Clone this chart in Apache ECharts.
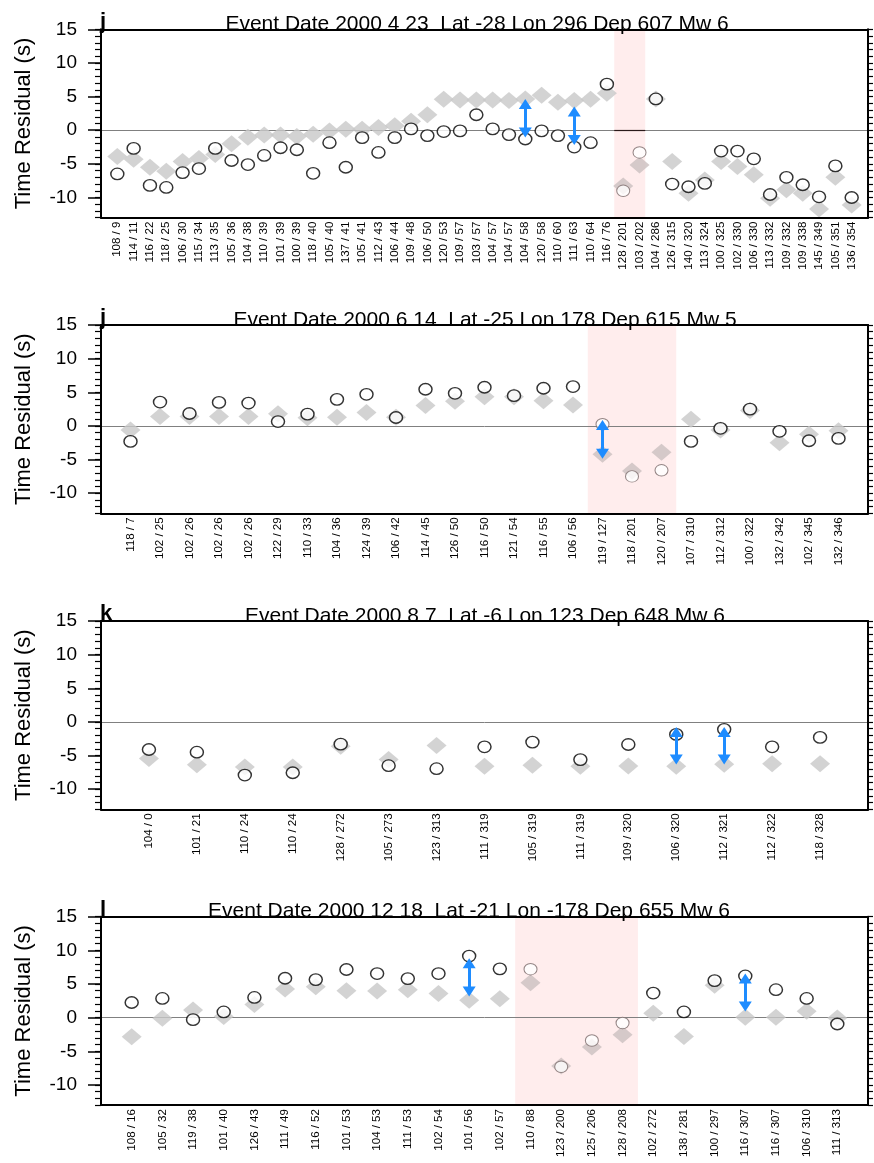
<!DOCTYPE html>
<html><head><meta charset="utf-8">
<script src="https://cdn.jsdelivr.net/npm/echarts@6/dist/echarts.min.js"></script>
<style>html,body{margin:0;padding:0;background:#fff}#c{width:874px;height:1163px}</style>
</head><body><div id="c"></div>
<script>
// ---------- DATA ----------
const labels1 = ['108 / 9','114 / 11','116 / 22','118 / 25','106 / 30','115 / 34','113 / 35','105 / 36','104 / 38','110 / 39','101 / 39','100 / 39','118 / 40','105 / 40','137 / 41','105 / 41','112 / 43','106 / 44','109 / 48','106 / 50','120 / 53','109 / 57','103 / 57','104 / 57','104 / 57','104 / 58','120 / 58','110 / 60','111 / 63','110 / 64','116 / 76','128 / 201','103 / 202','104 / 286','126 / 315','140 / 320','113 / 324','100 / 325','102 / 330','106 / 330','113 / 332','109 / 332','109 / 338','145 / 349','105 / 351','136 / 354'];
const pred1 = [-3.9,-4.3,-5.5,-6.1,-4.65,-4.2,-3.6,-2.0,-1.05,-0.7,-0.7,-0.95,-0.6,-0.1,0.15,0.15,0.4,0.65,1.35,2.3,4.6,4.5,4.5,4.5,4.4,4.65,5.2,4.15,4.4,4.6,5.5,-8.3,-5.15,4.65,-4.65,-9.35,-7.4,-4.65,-5.4,-6.6,-10.1,-8.85,-9.35,-11.7,-7.0,-11.1];
const obs1 = [-6.5,-2.7,-8.2,-8.5,-6.3,-5.7,-2.7,-4.5,-5.1,-3.75,-2.6,-2.9,-6.4,-1.85,-5.5,-1.1,-3.3,-1.1,0.2,-0.8,-0.2,-0.1,2.3,0.2,-0.65,-1.3,-0.1,-0.8,-2.5,-1.85,6.85,-9.0,-3.3,4.65,-8.0,-8.4,-7.9,-3.1,-3.1,-4.25,-9.55,-7.0,-8.1,-9.9,-5.3,-10.0];
const arrows1 = [[26, 3.9, -0.35], [29, 2.8, -1.45]];
const band1 = [31.45, 33.35];
const darkZero1 = [31.45, 33.35];
const title1 = 'Event Date 2000 4 23  Lat -28 Lon 296 Dep 607 Mw 6';
const letter1 = 'j';

const labels2 = ['118 / 7','102 / 25','102 / 26','102 / 26','102 / 26','122 / 29','110 / 33','104 / 36','124 / 39','106 / 42','114 / 45','126 / 50','116 / 50','121 / 54','116 / 55','106 / 56','119 / 127','118 / 201','120 / 207','107 / 310','112 / 312','100 / 322','132 / 342','102 / 345','132 / 346'];
const pred2 = [-0.6,1.4,1.4,1.4,1.4,1.8,1.2,1.3,2.0,1.3,3.05,3.65,4.35,4.35,3.75,3.1,-4.2,-6.7,-3.9,1.0,-0.6,2.3,-2.5,-1.25,-0.7];
const obs2 = [-2.3,3.55,1.85,3.5,3.4,0.65,1.75,3.95,4.7,1.25,5.45,4.85,5.75,4.5,5.6,5.85,0.25,-7.5,-6.6,-2.3,-0.35,2.5,-0.8,-2.2,-1.85];
const arrows2 = [[17, 0.15, -4.15]];
const band2 = [16.5, 19.5];
const title2 = 'Event Date 2000 6 14  Lat -25 Lon 178 Dep 615 Mw 5';
const letter2 = 'j';

const labels3 = ['104 / 0','101 / 21','110 / 24','110 / 24','128 / 272','105 / 273','123 / 313','111 / 319','105 / 319','111 / 319','109 / 320','106 / 320','112 / 321','112 / 322','118 / 328'];
const pred3 = [-5.45,-6.35,-6.7,-6.7,-3.6,-5.6,-3.5,-6.6,-6.45,-6.6,-6.55,-6.6,-6.3,-6.2,-6.2];
const obs3 = [-4.1,-4.5,-7.9,-7.55,-3.3,-6.5,-6.95,-3.7,-3.0,-5.6,-3.35,-1.85,-1.1,-3.7,-2.3];
const arrows3 = [[12, -1.5, -5.6], [13, -1.5, -5.6]];
const title3 = 'Event Date 2000 8 7  Lat -6 Lon 123 Dep 648 Mw 6';
const letter3 = 'k';

const labels4 = ['108 / 16','105 / 32','119 / 38','101 / 40','126 / 43','111 / 49','116 / 52','101 / 53','104 / 53','111 / 53','102 / 54','101 / 56','102 / 57','110 / 88','123 / 200','125 / 206','128 / 208','102 / 272','138 / 281','100 / 297','116 / 307','116 / 307','106 / 310','111 / 313'];
const pred4 = [-2.85,-0.1,1.15,0.15,1.95,4.25,4.6,4.0,3.95,4.15,3.6,2.6,2.8,5.2,-7.2,-4.35,-2.55,0.65,-2.8,4.8,0.05,0.05,0.95,-0.05];
const obs4 = [2.25,2.85,-0.3,0.85,3.0,5.85,5.65,7.15,6.55,5.8,6.55,9.15,7.25,7.2,-7.3,-3.4,-0.8,3.65,0.85,5.5,6.2,4.15,2.85,-0.95];
const arrows4 = [[12, 8.1, 3.9], [21, 5.8, 1.65]];
const band4 = [13.5, 17.5];
const title4 = 'Event Date 2000 12 18  Lat -21 Lon -178 Dep 655 Mw 6';
const letter4 = 'l';

const yTickValues = [-10, -5, 0, 5, 10, 15];
const yMin = -13, yMax = 15;
const yName = 'Time Residual (s)';

// ---------- LAYOUT ----------
const panels = [
  {labels: labels1, pred: pred1, obs: obs1, arrows: arrows1, band: band1, darkZero: darkZero1, title: title1, letter: letter1},
  {labels: labels2, pred: pred2, obs: obs2, arrows: arrows2, band: band2, darkZero: null, title: title2, letter: letter2},
  {labels: labels3, pred: pred3, obs: obs3, arrows: arrows3, band: null, darkZero: null, title: title3, letter: letter3},
  {labels: labels4, pred: pred4, obs: obs4, arrows: arrows4, band: band4, darkZero: null, title: title4, letter: letter4}
];
const gridTops = [29.3, 325, 621, 916.7];
const gridH = 188.4;
const gridLeft = 101, gridRight = 6;
const titleCenters = [477, 485, 485, 469];
const FONT = '"Liberation Sans", Arial, Helvetica, sans-serif';

const grid = [], xAxis = [], yAxis = [], series = [], graphic = [];

panels.forEach((p, k) => {
  const N = p.labels.length;
  grid.push({left: gridLeft, right: gridRight, top: gridTops[k], height: gridH, show: false});
  const inBand = i => p.band && i >= p.band[0] && i <= p.band[1];
  const xb = xAxis.length;
  xAxis.push({
    gridIndex: k, type: 'value', position: 'bottom', min: 0, max: N + 1, interval: 1, z: 3,
    axisLine: {show: true, onZero: false, lineStyle: {color: '#000', width: 2}},
    axisTick: {show: false}, splitLine: {show: false},
    axisLabel: {rotate: 90, margin: 4, fontSize: 11.5, color: '#000', fontFamily: FONT,
      formatter: v => (v >= 1 && v <= N) ? p.labels[v - 1] : ''}
  });
  xAxis.push({
    gridIndex: k, type: 'value', position: 'top', min: 0, max: N + 1, interval: 1, z: 3,
    axisLine: {show: true, onZero: false, lineStyle: {color: '#000', width: 2}},
    axisTick: {show: false}, axisLabel: {show: false}, splitLine: {show: false}
  });
  const ym = yAxis.length;
  yAxis.push({
    gridIndex: k, type: 'value', position: 'left', min: yMin, max: yMax, interval: 1, z: 3,
    axisLine: {show: true, onZero: false, lineStyle: {color: '#000', width: 2}},
    axisTick: {show: true, customValues: yTickValues, length: 13, lineStyle: {color: '#000', width: 1.5}},
    axisLabel: {customValues: yTickValues, formatter: v => yTickValues.indexOf(v) >= 0 ? String(v) : '',
      fontSize: 19, margin: 24, color: '#000', fontFamily: FONT},
    splitLine: {show: false},
    name: yName, nameLocation: 'middle', nameGap: 66,
    nameTextStyle: {fontSize: 22, color: '#000', fontFamily: FONT}
  });
  yAxis.push({
    gridIndex: k, type: 'value', position: 'left', min: yMin, max: yMax, interval: 1, z: 3,
    axisLine: {show: false}, axisLabel: {show: false}, splitLine: {show: false},
    axisTick: {show: true, length: 6, lineStyle: {color: '#000', width: 1.2}}
  });
  yAxis.push({
    gridIndex: k, type: 'value', position: 'right', min: yMin, max: yMax, interval: 1, z: 3,
    axisLine: {show: true, onZero: false, lineStyle: {color: '#000', width: 2}},
    axisLabel: {show: false}, splitLine: {show: false},
    axisTick: {show: true, length: 5, lineStyle: {color: '#000', width: 1.2}}
  });

  const zeroData = [{yAxis: 0}];
  if (p.darkZero) {
    zeroData.push([{coord: [p.darkZero[0], 0], lineStyle: {color: '#2a1a1a', width: 1.2}}, {coord: [p.darkZero[1], 0]}]);
  }
  series.push({
    type: 'scatter', xAxisIndex: xb, yAxisIndex: ym, z: 2,
    symbol: 'diamond', symbolSize: [20, 17],
    itemStyle: {color: '#c8c8c8'},
    data: p.pred.map((v, i) => inBand(i + 1)
      ? {value: [i + 1, v], itemStyle: {color: '#cbbfbf'}}
      : {value: [i + 1, v]}),
    markLine: {silent: true, z: 1, symbol: 'none', label: {show: false},
      lineStyle: {color: '#808080', width: 1, type: 'solid'}, data: zeroData},
    markArea: p.band ? {silent: true, z: 0.5, itemStyle: {color: '#FFEDED'},
      data: [[{xAxis: p.band[0]}, {xAxis: p.band[1]}]]} : undefined
  });
  series.push({
    type: 'scatter', xAxisIndex: xb, yAxisIndex: ym, z: 2.5,
    symbol: 'circle', symbolSize: [13, 11.5],
    itemStyle: {color: '#fff', borderColor: '#000', borderWidth: 1.4},
    data: p.obs.map((v, i) => inBand(i + 1)
      ? {value: [i + 1, v], itemStyle: {color: '#fff', borderColor: '#7a6a6a', borderWidth: 1}}
      : {value: [i + 1, v]}),
    markLine: {silent: true, z: 4, symbol: ['triangle', 'triangle'], symbolSize: [13, 10],
      label: {show: false}, lineStyle: {color: '#1E8CFF', width: 3, type: 'solid'},
      data: p.arrows.map(a => [{coord: [a[0], a[1]]}, {coord: [a[0], a[2]]}])}
  });

  graphic.push({
    type: 'text', x: titleCenters[k], y: gridTops[k] - 5, z: 1,
    style: {text: p.title, fill: '#000', font: '21px ' + FONT, textAlign: 'center', textVerticalAlign: 'middle'}
  });
  graphic.push({
    type: 'text', x: 100, y: gridTops[k] - 7, z: 1,
    style: {text: p.letter, fill: '#000', font: 'bold 22px ' + FONT, textAlign: 'left', textVerticalAlign: 'middle'}
  });
});

const chart = echarts.init(document.getElementById('c'), null, {renderer: 'canvas'});
chart.setOption({
  animation: false,
  backgroundColor: '#fff',
  textStyle: {fontFamily: FONT},
  grid, xAxis, yAxis, series, graphic
});
</script></body></html>
